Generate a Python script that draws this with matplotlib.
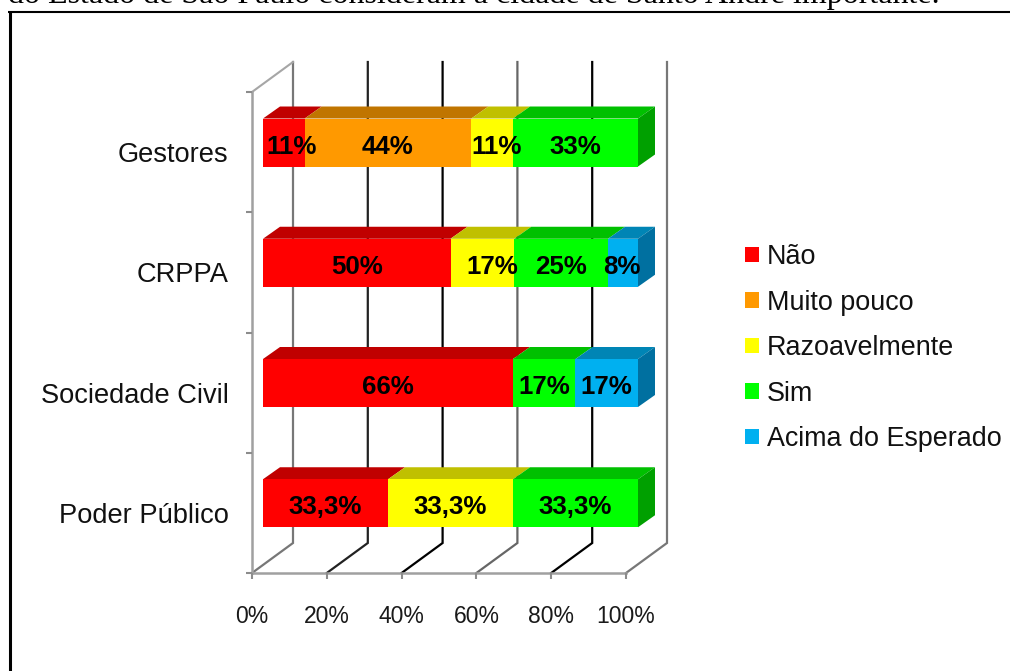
import matplotlib
matplotlib.use("Agg")
import matplotlib.pyplot as plt
import numpy as np
from matplotlib.patches import Patch, Polygon

plt.rcParams['font.family'] = ['Liberation Sans', 'DejaVu Sans']

# bottom to top, the way the axis counts them
CATEGORIES = ["Poder Público", "Sociedade Civil", "CRPPA", "Gestores"]
SERIES_NAMES = ["Não", "Muito pouco", "Razoavelmente", "Sim", "Acima do Esperado"]
NAO = [33.3, 66.67, 50, 11]
MUITO_POUCO = [0, 0, 0, 44]
RAZOAVELMENTE = [33.3, 0, 17, 11]
SIM = [33.3, 16.67, 25, 33]
ACIMA = [0, 16.67, 8, 0]
NAO_LABELS = ["33,3%", "66%", "50%", "11%"]
MUITO_POUCO_LABELS = ["", "", "", "44%"]
RAZOAVELMENTE_LABELS = ["33,3%", "", "17%", "11%"]
SIM_LABELS = ["33,3%", "17%", "25%", "33%"]
ACIMA_LABELS = ["", "17%", "8%", ""]
X_TICKS = [0, 20, 40, 60, 80, 100]
X_TICK_LABELS = ["0%", "20%", "40%", "60%", "80%", "100%"]
HEADER = "do Estado de São Paulo consideram a cidade de Santo André importante."

FRONT = ["#ff0000", "#ff9900", "#ffff00", "#00ff00", "#00b0f0"]
TOP = ["#c00000", "#c07500", "#c0c000", "#00c000", "#0085b5"]
SIDE = ["#a00000", "#a06000", "#a0a000", "#00a000", "#0070a0"]
GRID_COLORS = ["#777777", "#222222", "#000000", "#666666", "#000000", "#777777"]

W, H = 1010, 671
X_PX = 3.74    # pixels per percent
Y_PX = 120.25  # pixels per category
WALL_DX, WALL_DY = 41 / X_PX, 30 / Y_PX
BAR_DX, BAR_DY = 17 / X_PX, 12 / Y_PX
BAR_START = 11 / X_PX
BAR_POS = 0.58
BAR_H = 48 / Y_PX
BAR_SCALE = 375 / 374
# labels that the original pushes off the centre of their segment (pixels)
LABEL_NUDGE = {(3, 0): 8, (3, 2): 4, (2, 2): 10, (2, 4): -1}

fig = plt.figure(figsize=(W / 100, H / 100), dpi=100)
ax = fig.add_axes([252 / W, 1 - 573 / H, 374 / W, 481 / H])
ax.set_xlim(0, 100)
ax.set_ylim(0, 4)

# back wall and floor lines
for xt, color in zip(X_TICKS, GRID_COLORS):
    ax.plot([xt, xt + WALL_DX, xt + WALL_DX], [0, WALL_DY, 4 + WALL_DY],
            color=color, lw=1.6, clip_on=False, zorder=1, solid_joinstyle='miter')
ax.plot([0, WALL_DX], [4, 4 + WALL_DY], color="#a6a6a6", lw=1.5, clip_on=False, zorder=1)

values = np.array([NAO, MUITO_POUCO, RAZOAVELMENTE, SIM, ACIMA], dtype=float)
labels = [NAO_LABELS, MUITO_POUCO_LABELS, RAZOAVELMENTE_LABELS, SIM_LABELS, ACIMA_LABELS]
shares = values / values.sum(axis=0) * 100 * BAR_SCALE
bar_end = BAR_START + 100 * BAR_SCALE
left = np.full(len(CATEGORIES), BAR_START)
ypos = np.arange(len(CATEGORIES)) + BAR_POS

for s in range(len(SERIES_NAMES)):
    ax.barh(ypos, shares[s], height=BAR_H, left=left, color=FRONT[s], lw=0,
            clip_on=False, zorder=3)
    for c in range(len(CATEGORIES)):
        if shares[s, c] == 0:
            continue
        x0, x1 = left[c], left[c] + shares[s, c]
        y1 = ypos[c] + BAR_H / 2
        ax.add_patch(Polygon([(x0, y1), (x1, y1), (x1 + BAR_DX, y1 + BAR_DY), (x0 + BAR_DX, y1 + BAR_DY)],
                             closed=True, fc=TOP[s], lw=0, clip_on=False, zorder=2))
        if abs(x1 - bar_end) < 0.01:
            y0 = ypos[c] - BAR_H / 2
            ax.add_patch(Polygon([(x1, y0), (x1 + BAR_DX, y0 + BAR_DY), (x1 + BAR_DX, y1 + BAR_DY), (x1, y1)],
                                 closed=True, fc=SIDE[s], lw=0, clip_on=False, zorder=2))
    left = left + shares[s]

left = np.full(len(CATEGORIES), BAR_START)
for s in range(len(SERIES_NAMES)):
    for c in range(len(CATEGORIES)):
        if labels[s][c]:
            xc = left[c] + shares[s, c] / 2 + LABEL_NUDGE.get((c, s), 0) / X_PX
            ax.text(xc, ypos[c] - 0.035, labels[s][c], ha='center', va='center',
                    fontsize=18.6, fontweight='bold', color='black', zorder=5)
    left = left + shares[s]

for side in ['top', 'right']:
    ax.spines[side].set_visible(False)
for side in ['left', 'bottom']:
    ax.spines[side].set_color("#a0a0a0")
    ax.spines[side].set_linewidth(1.8)
    ax.spines[side].set_zorder(1.5)

ax.set_xticks(X_TICKS)
ax.set_xticklabels(X_TICK_LABELS, fontsize=16.5, color="#1a1a1a")
ax.tick_params(axis='x', length=4.5, width=1.5, color="#8c8c8c", pad=18.5)
ax.set_yticks(range(5))
ax.set_yticklabels([])
ax.tick_params(axis='y', which='major', length=4.5, width=1.5, color="#8c8c8c")
ax.set_yticks(np.arange(len(CATEGORIES)) + 0.5, minor=True)
ax.set_yticklabels(CATEGORIES, minor=True, fontsize=19.6, color="#111111")
ax.tick_params(axis='y', which='minor', length=0, pad=17)

handles = [Patch(fc=c, lw=0) for c in FRONT]
fig.legend(handles, SERIES_NAMES, frameon=False, fontsize=19.4, loc='upper left',
           bbox_to_anchor=(737 / W, 1 - 236 / H), bbox_transform=fig.transFigure,
           borderaxespad=0, borderpad=0.3, handlelength=0.5, handleheight=0.5,
           handletextpad=0.3, labelspacing=0.725, labelcolor="#111111")

# frame of the page the chart was pasted on
fig.add_artist(plt.Line2D([9.5 / W, 9.5 / W], [0, 1 - 11 / H], color='black', lw=2.2,
                          solid_capstyle='butt'))
fig.add_artist(plt.Line2D([8 / W, 1], [1 - 12 / H, 1 - 12 / H], color='black', lw=1.5,
                          solid_capstyle='butt'))
fig.text(8 / W, 1 - 3.5 / H, HEADER, family='Liberation Serif', fontsize=23,
         ha='left', va='baseline', color='black')

fig.savefig("out.png", dpi=100)
